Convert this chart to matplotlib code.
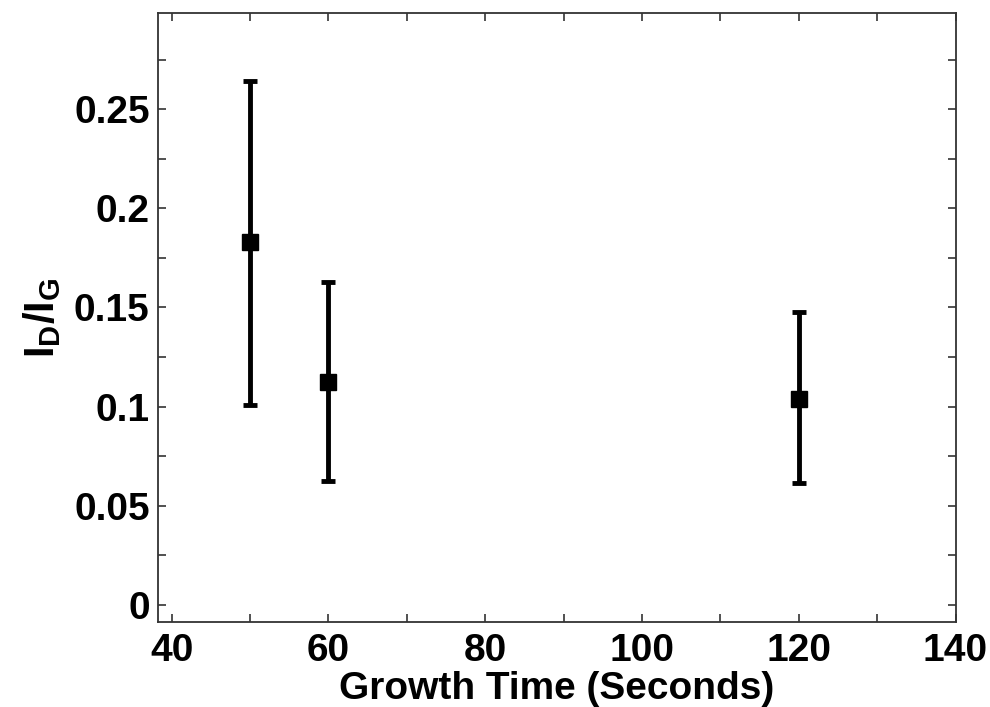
import matplotlib
matplotlib.use("Agg")
import matplotlib.pyplot as plt
from matplotlib.ticker import MultipleLocator

plt.rcParams['font.family'] = ['Liberation Sans', 'DejaVu Sans']
plt.rcParams['font.weight'] = 'bold'
plt.rcParams['mathtext.fontset'] = 'custom'
plt.rcParams['mathtext.rm'] = 'Liberation Sans:bold'
plt.rcParams['mathtext.bf'] = 'Liberation Sans:bold'
plt.rcParams['mathtext.it'] = 'Liberation Sans:bold'

growth_time = [50, 60, 120]
ratio = [0.183, 0.1124, 0.1036]
err_upper = [0.2643, 0.163, 0.1475]
err_lower = [0.1008, 0.0626, 0.0615]

yerr = [[r - lo for r, lo in zip(ratio, err_lower)],
        [hi - r for r, hi in zip(ratio, err_upper)]]

fig = plt.figure(figsize=(9.9, 7.07), dpi=100)
ax = fig.add_axes([158/990, 1 - 621.7/707, (955.5-158)/990, (621.7-13.3)/707])

ax.errorbar(growth_time, ratio, yerr=yerr, fmt='s', color='black', ecolor='black',
            elinewidth=3.5, capsize=5, capthick=3.5, markersize=11.5)

ax.set_xlim(38.25, 140)
ax.set_ylim(-0.0086, 0.2985)
ax.xaxis.set_minor_locator(MultipleLocator(10))
ax.yaxis.set_minor_locator(MultipleLocator(0.025))
ax.set_yticks([0, 0.05, 0.1, 0.15, 0.2, 0.25])
ax.set_yticklabels(['0', '0.05', '0.1', '0.15', '0.2', '0.25'])
ax.set_xticks([40, 60, 80, 100, 120, 140])
ax.set_xticklabels(['40', '60', '80', '100', '120', '140'])

ax.tick_params(which='both', direction='in', top=True, right=True, length=6, width=1.2,
               color='#333333', labelsize=28)
ax.tick_params(axis='y', pad=6)
ax.tick_params(axis='x', pad=8)
for s in ax.spines.values():
    s.set_linewidth(1.3)
    s.set_color('#333333')

ax.set_xlabel('Growth Time (Seconds)', fontsize=28, fontweight='bold', labelpad=1.5)
ax.set_ylabel(r'$\mathrm{I_D/I_G}$', fontsize=30, labelpad=8)

fig.savefig('out.png', dpi=100, facecolor='white')
